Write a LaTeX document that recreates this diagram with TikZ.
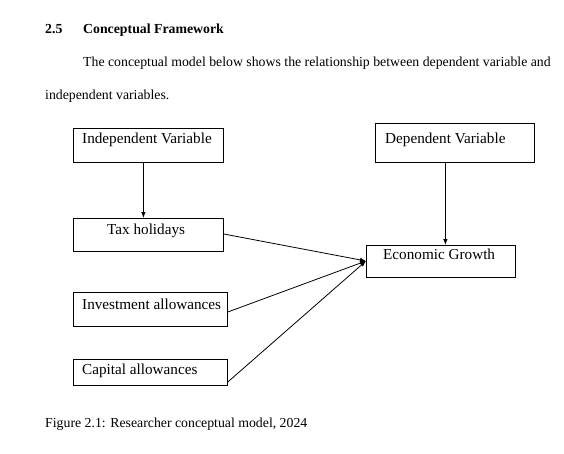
\documentclass[tikz,border=0pt]{standalone}
\usepackage{fontspec}
\setmainfont{Liberation Serif}
\usetikzlibrary{arrows.meta}
\begin{document}
\begin{tikzpicture}[x=1pt,y=-1pt,
  box/.style={draw,line width=0.8pt,inner sep=0pt,anchor=north west},
  txt/.style={anchor=base west,inner sep=0pt,font=\fontsize{13.8}{16}\selectfont},
  btxt/.style={anchor=base west,inner sep=0pt,font=\fontsize{15.2}{17}\selectfont},
  arr/.style={line width=0.8pt,-{Latex[length=6pt,width=4.5pt]}}]
\useasboundingbox (0,0) rectangle (564,453);
\node[txt,font=\fontsize{13.8}{16}\selectfont\bfseries] (sec) at (45,33) {2.5};
\node[txt,font=\fontsize{13.8}{16}\selectfont\bfseries] (head) at (83,33) {Conceptual Framework};
\node[txt] (p1) at (83,66) {The conceptual model below shows the relationship between dependent variable and};
\node[txt] (p2) at (45,99) {independent variables.};
\node[box,minimum width=150pt,minimum height=34pt] (iv) at (73,128) {};
\node[box,minimum width=150pt,minimum height=33pt] (th) at (73,218) {};
\node[box,minimum width=154pt,minimum height=34pt] (ia) at (73,292) {};
\node[box,minimum width=154pt,minimum height=26pt] (ca) at (73,359) {};
\node[box,minimum width=159pt,minimum height=39pt] (dv) at (375,123) {};
\node[box,minimum width=149pt,minimum height=32pt] (eg) at (366,245) {};
\node[btxt] at (82,143) {Independent Variable};
\node[btxt] at (107,234) {Tax holidays};
\node[btxt] at (82,309) {Investment allowances};
\node[btxt] at (82,374) {Capital allowances};
\node[btxt] at (385,143) {Dependent Variable};
\node[btxt] at (383,259) {Economic Growth};
\coordinate (hub) at (366,261);
\draw[arr] ([xshift=-5pt]iv.south) -- ([xshift=-5pt]th.north);
\draw[arr] ([xshift=-9.5pt]dv.south) -- ([xshift=-9.5pt]dv.south |- eg.north);
\draw[arr] ([yshift=-16pt]th.north east) -- (hub);
\draw[arr] ([yshift=-20pt]ia.north east) -- (hub);
\draw[arr] ([yshift=-23pt]ca.north east) -- (hub);
\node[txt] (cap) at (45,427) {Figure 2.1: Researcher conceptual model, 2024};
\end{tikzpicture}
\end{document}
